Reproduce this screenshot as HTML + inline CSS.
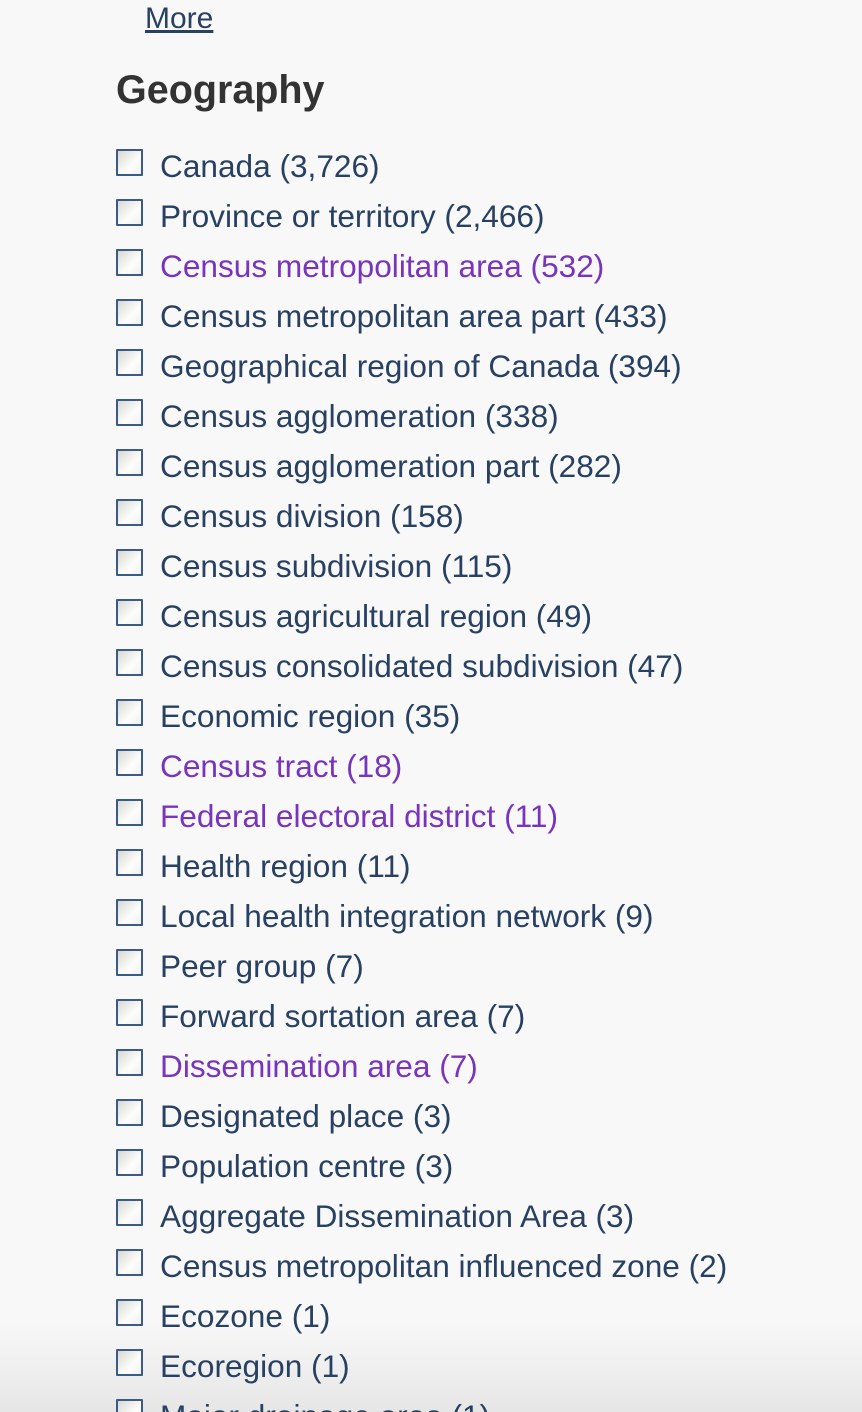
<!DOCTYPE html>
<html><head><meta charset="utf-8">
<style>
html,body{margin:0;padding:0;width:862px;height:1412px;overflow:hidden;background:#f8f8f8;font-family:"Liberation Sans",Arial,sans-serif;position:relative}
.more{position:absolute;left:145px;top:2px;font-size:30px;color:#284162;text-decoration:underline;line-height:normal}
h2{position:absolute;left:116px;top:68px;margin:0;font-size:39.5px;font-weight:bold;color:#333;line-height:normal}
.row{position:absolute;left:116px;height:40px;z-index:2}
.cb{position:absolute;left:0;width:23px;height:23px;border:2px solid #3b5a86;border-radius:1px;background:linear-gradient(135deg,#d8d8d4,#fdfdfb 60%,#f0f0ee)}
.lbl{position:absolute;left:44px;white-space:nowrap;font-size:31.6px;color:#284162;line-height:normal}
.v{color:#7834bc}
.shade{position:absolute;left:0;right:0;bottom:0;height:90px;background:linear-gradient(to bottom,rgba(232,232,232,0),rgba(230,230,230,1));z-index:1}
</style></head><body>
<a class="more">More</a>
<h2>Geography</h2>
<div id="list"></div>
<div class="shade"></div>
<script>
const labels=["Canada (3,726)","Province or territory (2,466)","Census metropolitan area (532)","Census metropolitan area part (433)","Geographical region of Canada (394)","Census agglomeration (338)","Census agglomeration part (282)","Census division (158)","Census subdivision (115)","Census agricultural region (49)","Census consolidated subdivision (47)","Economic region (35)","Census tract (18)","Federal electoral district (11)","Health region (11)","Local health integration network (9)","Peer group (7)","Forward sortation area (7)","Dissemination area (7)","Designated place (3)","Population centre (3)","Aggregate Dissemination Area (3)","Census metropolitan influenced zone (2)","Ecozone (1)","Ecoregion (1)","Major drainage area (1)"];
const visited=[2,12,13,18];
const list=document.getElementById('list');
labels.forEach((t,i)=>{
  const r=document.createElement('div');
  r.className='row';
  r.style.top=(149+50*i)+'px';
  
  
  const c=document.createElement('div');
  c.className='cb';
  
  
  const l=document.createElement('div');
  l.className='lbl'+(visited.includes(i)?' v':'');
  l.style.top='-1px';
  l.textContent=t;
  
  
  r.appendChild(c);r.appendChild(l);list.appendChild(r);
});
</script>
</body></html>
